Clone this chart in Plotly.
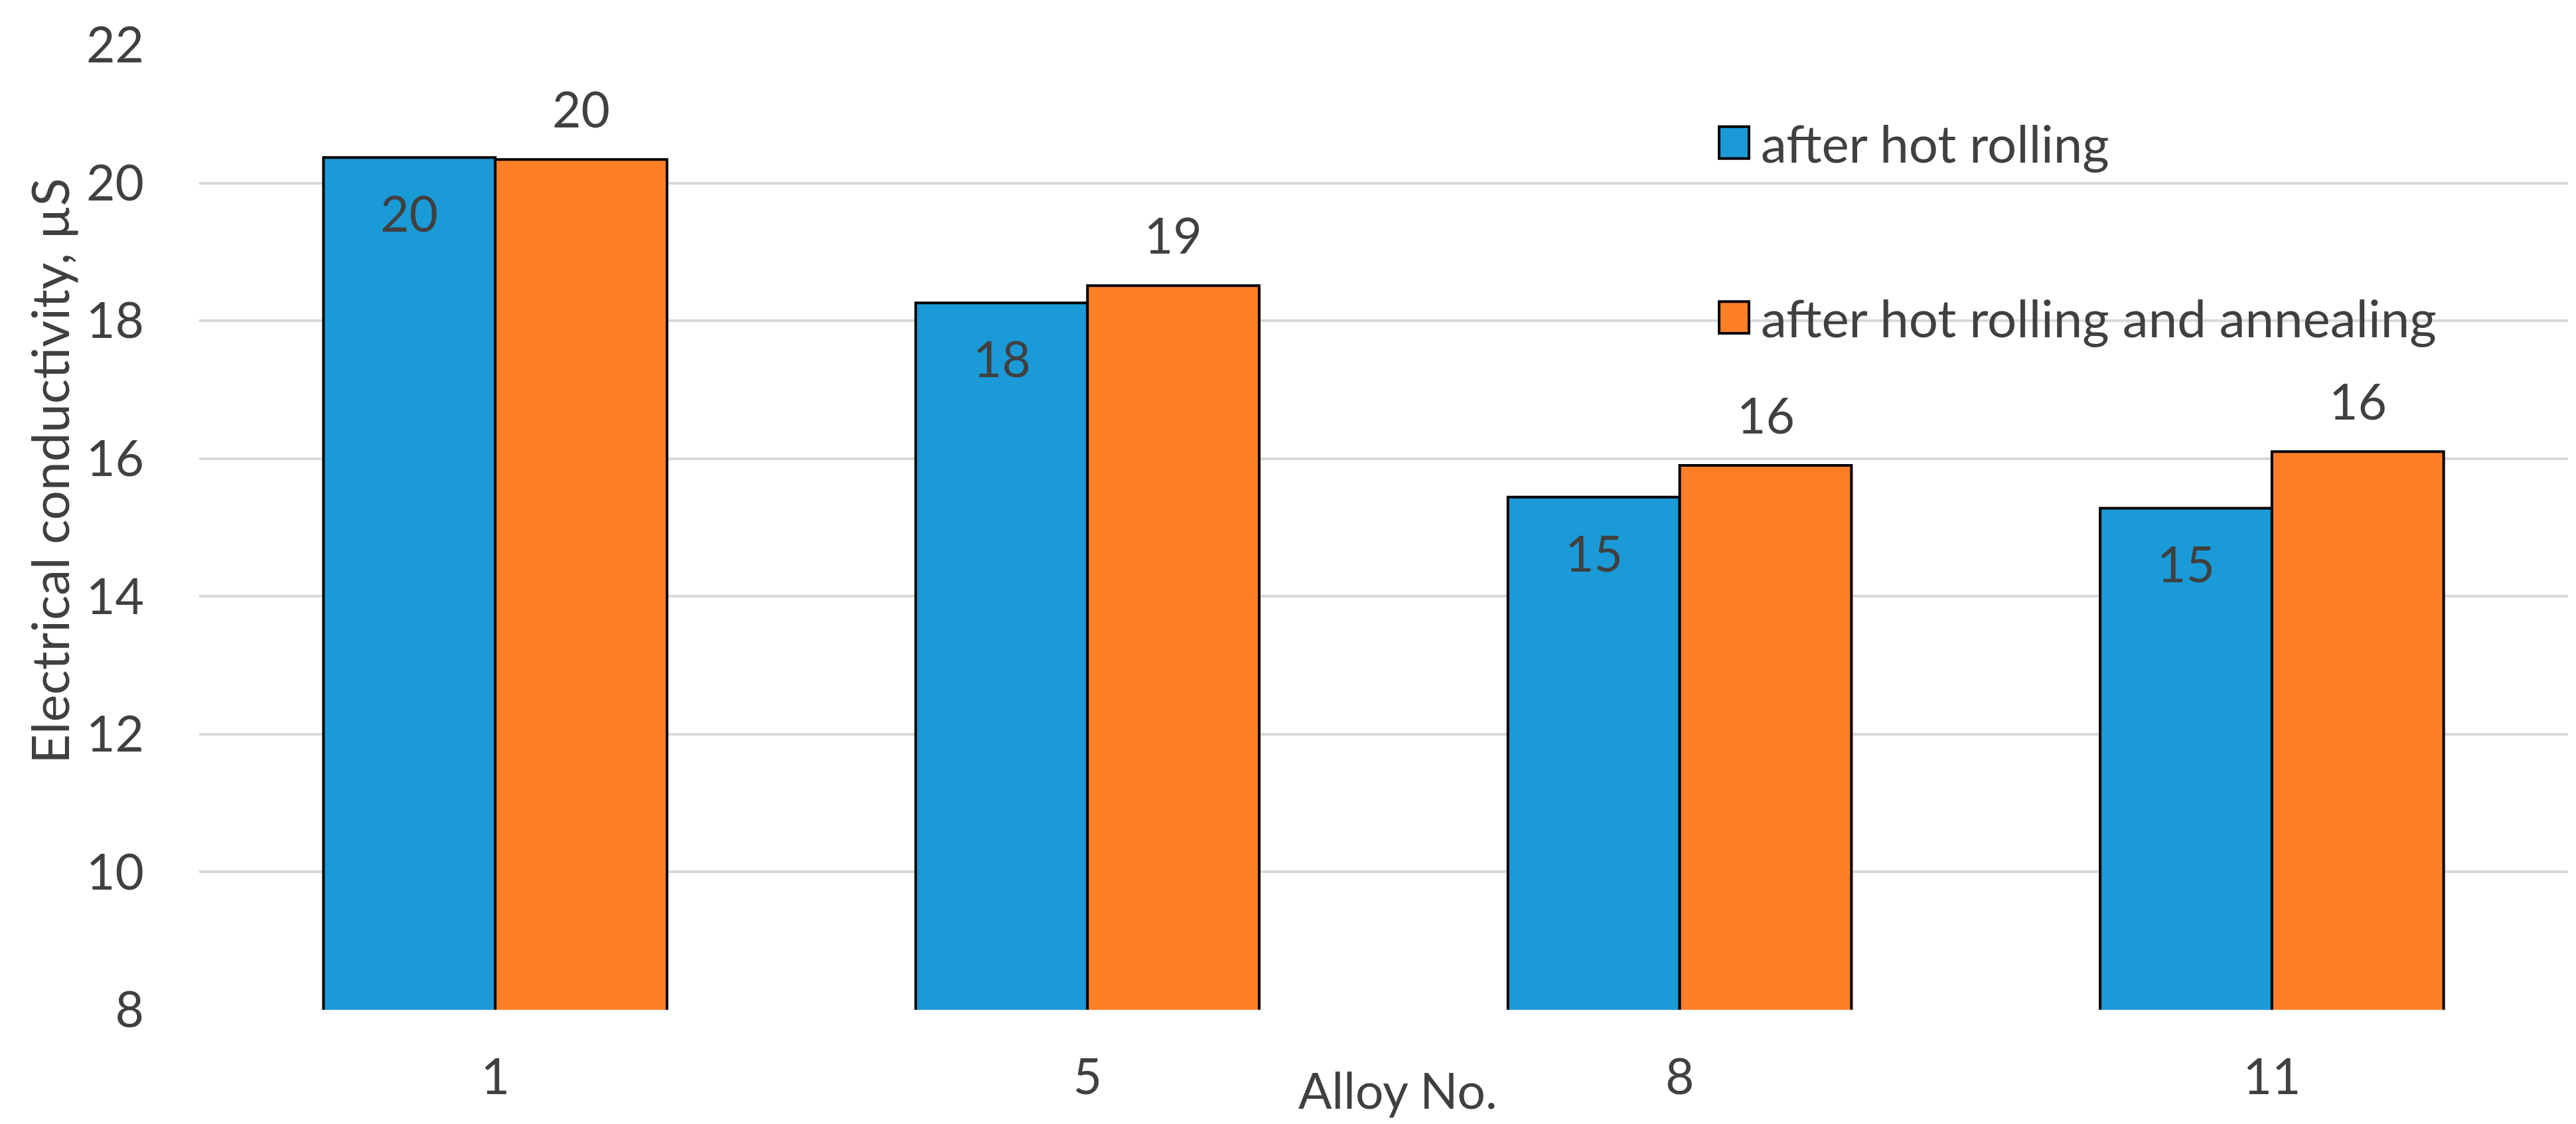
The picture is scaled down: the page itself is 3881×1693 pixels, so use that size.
import plotly.graph_objects as go

# ---- data ----
alloys = ["1", "5", "8", "11"]
series_names = ["after hot rolling", "after hot rolling and annealing"]
hot_rolled = [20.37, 18.26, 15.44, 15.28]
hot_rolled_annealed = [20.34, 18.51, 15.90, 16.10]
y_ticks = [8, 10, 12, 14, 16, 18, 20, 22]
colors = ["#1A9BD7", "#FF7F27"]

W, H = 3881, 1693
L, R, T, B = 292, 20, 57, 180
FONT = "Lato"
FS = 75
TXT = "#404040"
BARGAP = 0.42

plot_w = W - L - R
plot_h = H - T - B


def px_x(px):
    return (px - L) / plot_w


def px_y(py):
    return (H - B - py) / plot_h


fig = go.Figure()
for name, vals, col in zip(series_names, [hot_rolled, hot_rolled_annealed], colors):
    fig.add_trace(go.Bar(
        x=alloys, y=vals, name=name,
        marker=dict(color=col, line=dict(color="black", width=4)),
        showlegend=False, hoverinfo="x+y+name",
    ))

# data labels (rounded), placed via the axes' scales (category index positions)
bar_w = plot_w / len(alloys) * (1 - BARGAP) / 2
annotations = []
for i, v in enumerate(hot_rolled):
    annotations.append(dict(x=i, y=v, xref="x", yref="y", text=f"{v:.0f}",
                            showarrow=False, xshift=-bar_w / 2, yshift=-83,
                            yanchor="middle", font=dict(family=FONT, size=FS, color=TXT)))
for i, v in enumerate(hot_rolled_annealed):
    annotations.append(dict(x=i, y=v, xref="x", yref="y", text=f"{v:.0f}",
                            showarrow=False, xshift=bar_w / 2, yshift=77,
                            yanchor="middle", font=dict(family=FONT, size=FS, color=TXT)))

# axis titles
annotations.append(dict(x=px_x(2098), y=px_y(1633), xref="paper", yref="paper", text="Alloy No.",
                        showarrow=False, xanchor="center", yanchor="middle",
                        font=dict(family=FONT, size=FS, color=TXT)))
annotations.append(dict(x=px_x(66), y=px_y(700), xref="paper", yref="paper",
                        text="Electrical conductivity, µS", textangle=-90,
                        showarrow=False, xanchor="center", yanchor="middle",
                        font=dict(family=FONT, size=78, color=TXT)))

# legend (custom, large swatches)
shapes = []
leg_centers = [204, 468]
for name, col, yc in zip(series_names, colors, leg_centers):
    shapes.append(dict(type="rect", xref="paper", yref="paper",
                       x0=px_x(2582), x1=px_x(2627), y0=px_y(yc + 24), y1=px_y(yc - 24),
                       fillcolor=col, line=dict(color="black", width=4)))
    annotations.append(dict(x=px_x(2643), y=px_y(yc), xref="paper", yref="paper", text=name,
                            showarrow=False, xanchor="left", yanchor="middle",
                            font=dict(family=FONT, size=78, color=TXT)))

fig.update_layout(
    width=W, height=H,
    margin=dict(l=L, r=R, t=T, b=B, pad=0),
    paper_bgcolor="white", plot_bgcolor="white",
    barmode="group", bargap=BARGAP, bargroupgap=0,
    font=dict(family=FONT, size=FS, color=TXT),
    annotations=annotations, shapes=shapes,
    showlegend=False,
)
fig.update_xaxes(type="category", range=[-0.5, len(alloys) - 0.5], showgrid=False,
                 zeroline=False, showline=False, ticks="", ticklabelstandoff=51,
                 tickfont=dict(family=FONT, size=FS, color=TXT))
fig.update_yaxes(range=[8, 22], tickvals=y_ticks, showgrid=True, gridcolor="#D9D9D9",
                 gridwidth=4, zeroline=False, showline=False, ticks="",
                 ticklabelstandoff=82, tickfont=dict(family=FONT, size=FS, color=TXT))

fig.write_html("out.html")
